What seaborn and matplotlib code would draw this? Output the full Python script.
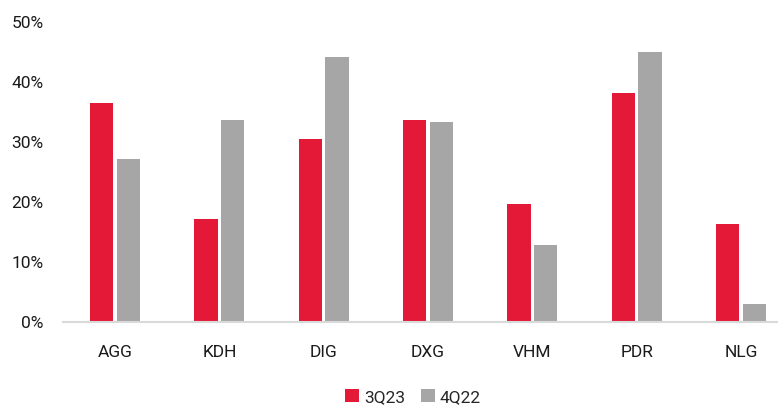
import matplotlib
matplotlib.use("Agg")
import matplotlib.pyplot as plt
import seaborn as sns
import pandas as pd
from matplotlib.ticker import PercentFormatter
from matplotlib.patches import Patch

categories = ["AGG", "KDH", "DIG", "DXG", "VHM", "PDR", "NLG"]
series_names = ["3Q23", "4Q22"]
q3_23 = [36.5, 17.2, 30.4, 33.7, 19.6, 38.2, 16.3]
q4_22 = [27.2, 33.6, 44.2, 33.3, 12.8, 45.0, 3.0]
y_ticks = [0, 10, 20, 30, 40, 50]
colors = ["#E31937", "#A6A6A6"]

df = pd.DataFrame({
    "ticker": categories * 2,
    "series": [series_names[0]] * len(categories) + [series_names[1]] * len(categories),
    "value": q3_23 + q4_22,
})

sns.set_theme(style="white")
plt.rcParams["font.family"] = ["Roboto", "DejaVu Sans"]

fig = plt.figure(figsize=(7.78, 4.07), dpi=100)
ax = fig.add_axes([63 / 778, (407 - 321.7) / 407, 730 / 778, (321.7 - 22) / 407])

sns.barplot(data=df, x="ticker", y="value", hue="series", palette=colors,
            width=0.511, gap=0.125, ax=ax, legend=False, saturation=1,
            edgecolor="none")

ax.set_ylim(0, 50)
ax.set_xlim(-0.5, len(categories) - 0.5)
ax.set_yticks(y_ticks)
ax.yaxis.set_major_formatter(PercentFormatter(decimals=0))
ax.set_xlabel("")
ax.set_ylabel("")
for s in ["top", "right", "left"]:
    ax.spines[s].set_visible(False)
ax.spines["bottom"].set_color("#D9D9D9")
ax.spines["bottom"].set_linewidth(1.5)
ax.tick_params(axis="y", length=0, pad=14, labelsize=12.5, labelcolor="#1a1a1a")
ax.tick_params(axis="x", length=0, pad=17, labelsize=12.5, labelcolor="#1a1a1a")

handles = [Patch(facecolor=c, edgecolor="none") for c in colors]
fig.legend(handles, series_names, loc="center", bbox_to_anchor=(413 / 778, 1 - 397 / 407),
           ncol=2, frameon=False, fontsize=12.5, handlelength=0.8, handleheight=0.8,
           handletextpad=0.3, columnspacing=0.9)

fig.savefig("out.png", dpi=100)
